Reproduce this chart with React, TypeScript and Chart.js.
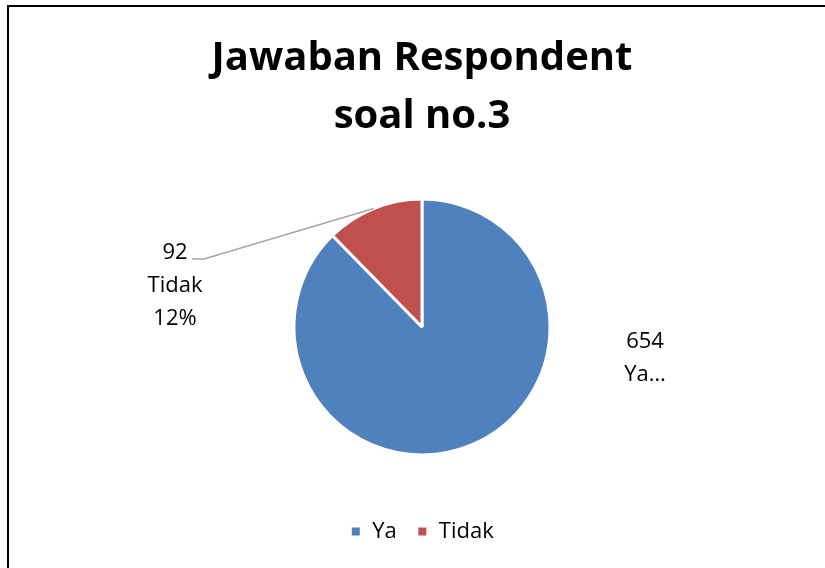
import { useEffect, useRef } from 'react';
import { Chart, registerables } from 'chart.js';

Chart.register(...registerables);

const categories = ['Ya', 'Tidak'];
const values = [654, 92];
const colors = ['#4F81BD', '#C0504D'];
const titleLines = ['Jawaban Respondent', 'soal no.3'];
const labelCategoryText = ['Ya…', 'Tidak'];
const labelShowPercent = [false, true];

const FONT = "'Open Sans', sans-serif";

const dataLabelPlugin = {
  id: 'dataLabels',
  afterDatasetsDraw(chart: any) {
    const ctx = chart.ctx;
    const meta = chart.getDatasetMeta(0);
    const total = values.reduce((a, b) => a + b, 0);
    ctx.save();
    ctx.font = `22px ${FONT}`;
    ctx.fillStyle = '#000';
    ctx.textAlign = 'center';
    ctx.textBaseline = 'alphabetic';
    meta.data.forEach((arc: any, i: number) => {
      const p = arc.getProps(['x', 'y', 'outerRadius', 'startAngle', 'endAngle'], true);
      const mid = (p.startAngle + p.endAngle) / 2;
      const lines = [String(values[i]), labelCategoryText[i]];
      if (labelShowPercent[i]) lines.push(Math.round((values[i] / total) * 100) + '%');
      const isLeft = Math.cos(mid) < 0;
      const lx = isLeft ? p.x - 247 : p.x + 223;
      const by = isLeft ? p.y - 68 : p.y + 21;
      if (isLeft) {
        const ax = p.x + Math.cos(mid) * p.outerRadius;
        const ay = p.y + Math.sin(mid) * p.outerRadius;
        ctx.beginPath();
        ctx.strokeStyle = '#A6A6A6';
        ctx.lineWidth = 1.5;
        ctx.moveTo(lx + 17, by);
        ctx.lineTo(lx + 29, by);
        ctx.lineTo(ax, ay);
        ctx.stroke();
      }
      lines.forEach((t, k) => ctx.fillText(t, lx, by + k * 33));
    });
    ctx.restore();
  },
};

export default function App() {
  const ref = useRef<HTMLCanvasElement>(null);
  useEffect(() => {
    if (!ref.current) return;
    const chart = new Chart(ref.current, {
      type: 'pie',
      data: {
        labels: categories,
        datasets: [
          {
            data: values,
            backgroundColor: colors,
            borderColor: '#FFFFFF',
            borderWidth: 3,
          },
        ],
      },
      options: {
        responsive: false,
        animation: false,
        layout: { padding: { left: 19, right: 0, top: 0, bottom: 15.5 } },
        plugins: {
          title: {
            display: true,
            text: titleLines,
            color: '#000',
            font: { family: FONT, size: 40, weight: 'bold', lineHeight: 1.45 },
            padding: { top: 29.6, bottom: 51.9 },
          },
          legend: {
            display: true,
            position: 'bottom',
            title: { display: true, text: ' ', font: { size: 10, lineHeight: '44px' }, padding: 0 },
            labels: {
              boxWidth: 11,
              boxHeight: 11,
              padding: 20,
              color: '#000',
              font: { family: FONT, size: 22 },
            },
          },
          tooltip: { enabled: false },
        },
      },
      plugins: [dataLabelPlugin],
    });
    return () => chart.destroy();
  }, []);
  return (
    <div style={{ position: 'fixed', left: 0, top: 0, width: 825, height: 568, background: '#fff' }}>
      <canvas ref={ref} width={825} height={568} style={{ position: 'absolute', left: 0, top: 0 }} />
      <div
        style={{
          position: 'absolute',
          left: 7,
          top: 5,
          right: 0,
          bottom: 0,
          borderLeft: '2px solid #000',
          borderTop: '2px solid #000',
          pointerEvents: 'none',
        }}
      />
    </div>
  );
}
